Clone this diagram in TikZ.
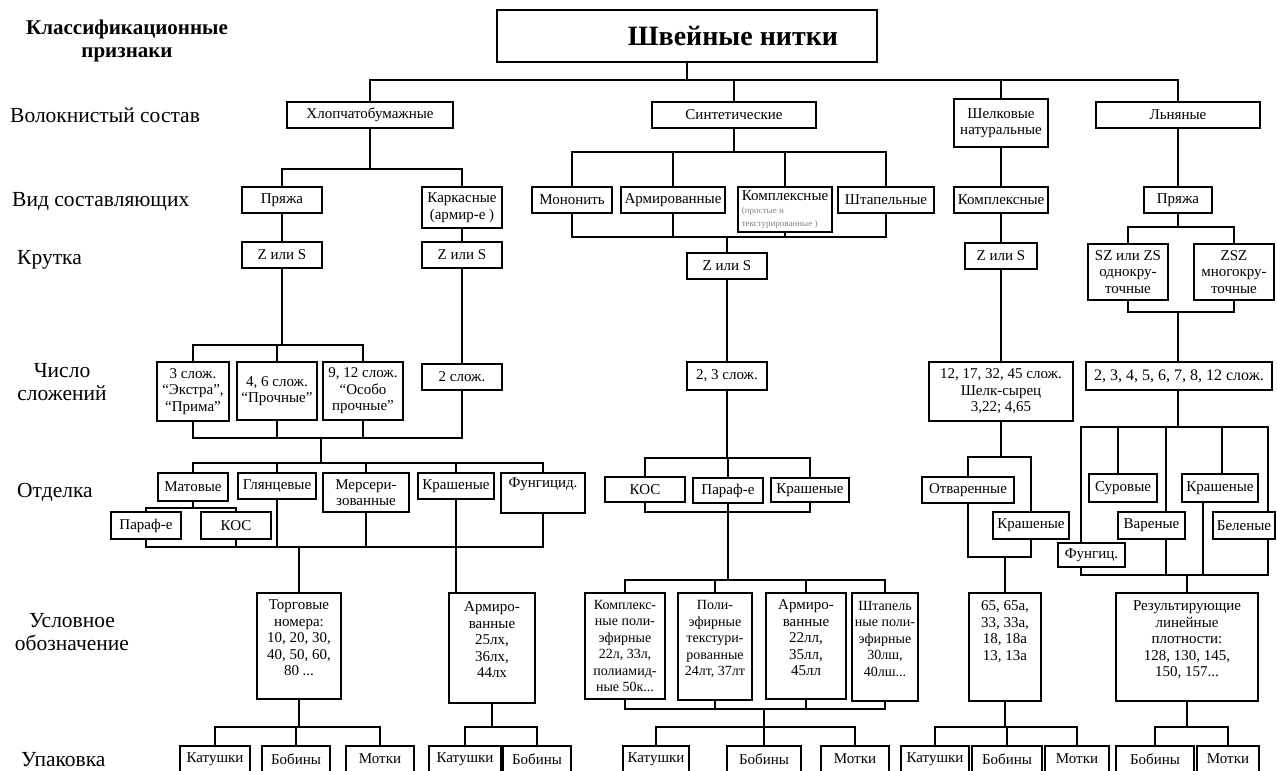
\documentclass[tikz,border=0pt]{standalone}
\usepackage{fontspec}
\setmainfont{Liberation Serif}
\tikzset{
  box/.style={draw, line width=1.3pt, inner sep=1pt, outer sep=0pt, align=center, font=\fontsize{15}{16.5}\selectfont},
  ln/.style={line width=1.3pt},
  lab/.style={font=\fontsize{21.5}{23}\selectfont, inner sep=0pt, align=center},
}
\newcommand{\bx}[7][]{\node[box,minimum width={#4-#2},minimum height={#5-#3},#1] (#6) at ({(#2+#4)/2},{(#3+#5)/2}) {#7};}
\begin{document}
\begin{tikzpicture}[x=1pt,y=-1pt]
\useasboundingbox (0,0) rectangle (1277,771);
\clip (0,0) rectangle (1277,771);
% row labels
\node[font=\bfseries\fontsize{21}{23}\selectfont, align=center, inner sep=0pt] (cls) at (127,41) {Классификационные\\признаки};
\node[lab, anchor=west] (r1) at (10,115) {Волокнистый состав};
\node[lab, anchor=west] (r2) at (12,202) {Вид составляющих};
\node[lab, anchor=west] (r3) at (17,260) {Крутка};
\node[lab] (r4) at (62,382) {Число\\сложений};
\node[lab, anchor=west] (r5) at (17,492) {Отделка};
\node[lab] (r6) at (72,632) {Условное\\обозначение};
\node[lab, anchor=west] (r7) at (21,760) {Упаковка};
% boxes
\bx[font=\bfseries\fontsize{28}{30}\selectfont]{497}{10}{877}{62}{T}{\hspace*{92pt}Швейные нитки}
\bx{287}{102}{453}{128}{hl}{Хлопчатобумажные}
\bx{652}{102}{816}{128}{sy}{Синтетические}
\bx{954}{99}{1048}{147}{sh}{Шелковые\\натуральные}
\bx{1096}{102}{1260}{128}{ln}{Льняные}
\bx{242}{187}{322}{213}{hp}{Пряжа}
\bx{422}{187}{502}{228}{hk}{Каркасные\\(армир-е )}
\bx{532}{187}{612}{213}{sm}{Мононить}
\bx{621}{187}{725}{213}{sa}{Армированные}
\bx[align=left]{738}{187}{832}{232}{sk}{Комплексные\\[-3pt]{\color{gray}\fontsize{9}{10}\selectfont (простые и}\\[-4pt]{\color{gray}\fontsize{9}{10}\selectfont текстурированные )}}
\bx{838}{187}{934}{213}{ss}{Штапельные}
\bx{954}{187}{1048}{213}{shk}{Комплексные}
\bx{1144}{187}{1212}{213}{lp}{Пряжа}
\bx{242}{242}{322}{268}{hza}{Z или S}
\bx{422}{242}{502}{268}{hzb}{Z или S}
\bx{687}{253}{767}{279}{sz}{Z или S}
\bx{965}{243}{1037}{269}{shz}{Z или S}
\bx{1088}{244}{1168}{300}{lza}{SZ или ZS\\однокру-\\точные}
\bx{1194}{244}{1274}{300}{lzb}{ZSZ\\многокру-\\точные}
\bx{157}{362}{229}{421}{hca}{3 слож.\\“Экстра”,\\“Прима”}
\bx{237}{362}{317}{420}{hcb}{4, 6 слож.\\“Прочные”}
\bx{323}{362}{403}{420}{hcc}{9, 12 слож.\\“Особо\\прочные”}
\bx{422}{364}{502}{390}{hcd}{2 слож.}
\bx{687}{362}{767}{390}{sc}{2, 3 слож.}
\bx{929}{362}{1073}{421}{shc}{12, 17, 32, 45 слож.\\Шелк-сырец\\3,22; 4,65}
\bx[font=\fontsize{16}{17}\selectfont]{1086}{362}{1272}{390}{lc}{2, 3, 4, 5, 6, 7, 8, 12 слож.}
\bx{158}{473}{228}{501}{hm}{Матовые}
\bx{238}{473}{316}{499}{hg}{Глянцевые}
\bx{323}{473}{409}{512}{hme}{Мерсери-\\зованные}
\bx{418}{473}{494}{499}{hkr}{Крашеные}
\bx{501}{473}{585}{513}{hf}{Фунгицид.\\\strut}
\bx{111}{512}{181}{539}{hpa}{Параф-е}
\bx{201}{512}{271}{539}{hko}{КОС}
\bx{605}{477}{685}{502}{sko}{КОС}
\bx{693}{478}{763}{503}{spa}{Параф-е}
\bx{771}{478}{849}{502}{skr}{Крашеные}
\bx{922}{477}{1014}{503}{sho}{Отваренные}
\bx{993}{512}{1069}{539}{shkr}{Крашеные}
\bx{1089}{474}{1157}{502}{lsu}{Суровые}
\bx{1182}{474}{1258}{502}{lkr}{Крашеные}
\bx{1118}{512}{1185}{539}{lva}{Вареные}
\bx{1213}{512}{1275}{539}{lbe}{Беленые}
\bx{1058}{543}{1125}{567}{lfu}{Фунгиц.}
\bx{257}{593}{341}{699}{ht}{Торговые\\номера:\\10, 20, 30,\\40, 50, 60,\\80 ...\\~}
\bx{449}{593}{535}{703}{ha}{Армиро-\\ванные\\25лх,\\36лх,\\44лх\\~}
\bx[font=\fontsize{14}{16.5}\selectfont]{585}{593}{665}{699}{sa1}{Комплекс-\\ные поли-\\эфирные\\22л, 33л,\\полиамид-\\ные 50к...}
\bx[font=\fontsize{14}{16.5}\selectfont]{678}{593}{752}{700}{sa2}{Поли-\\эфирные\\текстури-\\рованные\\24лт, 37лт\\~}
\bx{766}{593}{846}{699}{sa3}{Армиро-\\ванные\\22лл,\\35лл,\\45лл\\~}
\bx[font=\fontsize{14}{16.5}\selectfont]{852}{593}{918}{701}{sa4}{Штапель\\ные поли-\\эфирные\\30лш,\\40лш...\\~}
\bx{969}{593}{1041}{701}{sh6}{65, 65а,\\33, 33а,\\18, 18а\\13, 13а\\~\\~}
\bx{1116}{593}{1258}{701}{l6}{Результирующие\\линейные\\плотности:\\128, 130, 145,\\150, 157...\\~}
\bx{180}{746}{250}{772}{hK}{Катушки}
\bx{262}{746}{330}{772}{hB}{Бобины}
\bx{346}{746}{414}{772}{hM}{Мотки}
\bx{429}{746}{501}{772}{aK}{Катушки}
\bx{503}{746}{571}{772}{aB}{Бобины}
\bx{623}{746}{689}{772}{sK}{Катушки}
\bx{727}{746}{801}{772}{sB}{Бобины}
\bx{821}{746}{889}{772}{sM}{Мотки}
\bx{901}{746}{969}{772}{shK}{Катушки}
\bx{972}{746}{1042}{772}{shB}{Бобины}
\bx{1045}{746}{1109}{772}{shM}{Мотки}
\bx{1116}{746}{1194}{772}{lB}{Бобины}
\bx{1197}{746}{1259}{772}{lM}{Мотки}
% bus levels
\coordinate (b0) at (0,80);
\coordinate (b1) at (0,169);
\coordinate (b2) at (0,152);
\coordinate (b3) at (0,237);
\coordinate (b4) at (0,458);
\coordinate (b5) at (0,512);
\coordinate (b6) at (0,580);
\coordinate (b7) at (0,709);
\coordinate (b8) at (0,727);
\coordinate (b9) at (0,345);
\coordinate (b12) at (0,508);
\coordinate (b13) at (0,547);
\coordinate (b14) at (0,457);
\coordinate (b15) at (0,557);
\coordinate (b16) at (0,227);
\coordinate (b17) at (0,312);
\coordinate (b18) at (0,427);
\coordinate (b19) at (0,575);
\coordinate (j1) at (321,438);
\coordinate (j2) at (321,463);
% connectors
\foreach \n in {hl,sy,sh,ln} \draw[ln] (T.south) -- (T.south|-b0) -| (\n.north);
\foreach \n in {hp,hk} \draw[ln] (hl.south) -- (hl.south|-b1) -| (\n.north);
\draw[ln] (hp) -- (hza);
\draw[ln] (hk) -- (hzb);
\foreach \n in {sm,sa,sk,ss} \draw[ln] (sy.south) -- (sy.south|-b2) -| (\n.north);
\foreach \n in {sm,sa,sk,ss} \draw[ln] (\n.south) -- (\n.south|-b3) -| (sz.north);
\draw[ln] (sz) -- (sc);
\draw[ln] (sh) -- (shk);
\draw[ln] (shk) -- (shz);
\draw[ln] (shz) -- (shc);
\draw[ln] (ln) -- (lp);
\foreach \n in {lza,lzb} \draw[ln] (lp.south) -- (lp.south|-b16) -| (\n.north);
\foreach \n in {lza,lzb} \draw[ln] (\n.south) -- (\n.south|-b17) -| (lp.south|-lc.north);
% cotton
\foreach \n in {hca,hcb,hcc} \draw[ln] (hza.south) -- (hza.south|-b9) -| (\n.north);
\draw[ln] (hzb) -- (hcd);
\foreach \n in {hca,hcb,hcc,hcd} \draw[ln] (\n.south) |- (j1);
\draw[ln] (j1) -- (j2);
\foreach \n in {hm,hg,hme,hkr,hf} \draw[ln] (j2) -| (\n.north);
\foreach \n in {hpa,hko} \draw[ln] (hm.south) -- (hm.south|-b12) -| (\n.north);
\foreach \n in {hpa,hko,hg,hme,hf} \draw[ln] (\n.south) |- (ht.north|-b13);
\draw[ln] (ht.north|-b13) -- (ht.north);
\draw[ln] (hkr.south) -- (hkr.south|-ha.north);
% synthetic
\foreach \n in {sko,spa,skr} \draw[ln] (sc.south) -- (sc.south|-b4) -| (\n.north);
\foreach \n in {sko,skr} \draw[ln] (\n.south) |- (spa.south|-b5);
\draw[ln] (spa.south) -- (spa.south|-b6);
\foreach \n in {sa1,sa2,sa3,sa4} \draw[ln] (spa.south|-b6) -| (\n.north);
% silk
\foreach \n in {sho,shkr} \draw[ln] (shc.south) -- (shc.south|-b14) -| (\n.north);
\foreach \n in {sho,shkr} \draw[ln] (\n.south) |- (sh6.north|-b15);
\draw[ln] (sh6.north|-b15) -- (sh6.north);
% linen
\draw[ln] (lp.south|-lc.south) -- (lp.south|-b18);
\foreach \xx/\n in {1081/lfu,1118/lsu,1166/lva,1222/lkr,1268/lbe} \draw[ln] (lp.south|-b18) -| (\n.north -| \xx,0);
\foreach \xx/\n in {1081/lfu,1166/lva,1203/lkr,1268/lbe} \draw[ln] (\n.south -| \xx,0) |- (l6.north|-b19);
\draw[ln] (l6.north|-b19) -- (l6.north);
% packaging
\draw[ln] (ht.south) -- (ht.south|-b8);
\foreach \n in {hK,hB,hM} \draw[ln] (ht.south|-b8) -| (\n.north);
\draw[ln] (ha.south) -- (ha.south|-b8);
\foreach \n in {aK,aB} \draw[ln] (ha.south|-b8) -| (\n.north);
\foreach \n in {sa1,sa2,sa3,sa4} \draw[ln] (\n.south) |- (sB.north|-b7);
\draw[ln] (sB.north|-b7) -- (sB.north|-b8);
\foreach \n in {sK,sB,sM} \draw[ln] (sB.north|-b8) -| (\n.north);
\draw[ln] (sh6.south) -- (sh6.south|-b8);
\foreach \n in {shK,shB,shM} \draw[ln] (sh6.south|-b8) -| (\n.north);
\draw[ln] (l6.south) -- (l6.south|-b8);
\foreach \n in {lB,lM} \draw[ln] (l6.south|-b8) -| (\n.north);
\end{tikzpicture}
\end{document}
